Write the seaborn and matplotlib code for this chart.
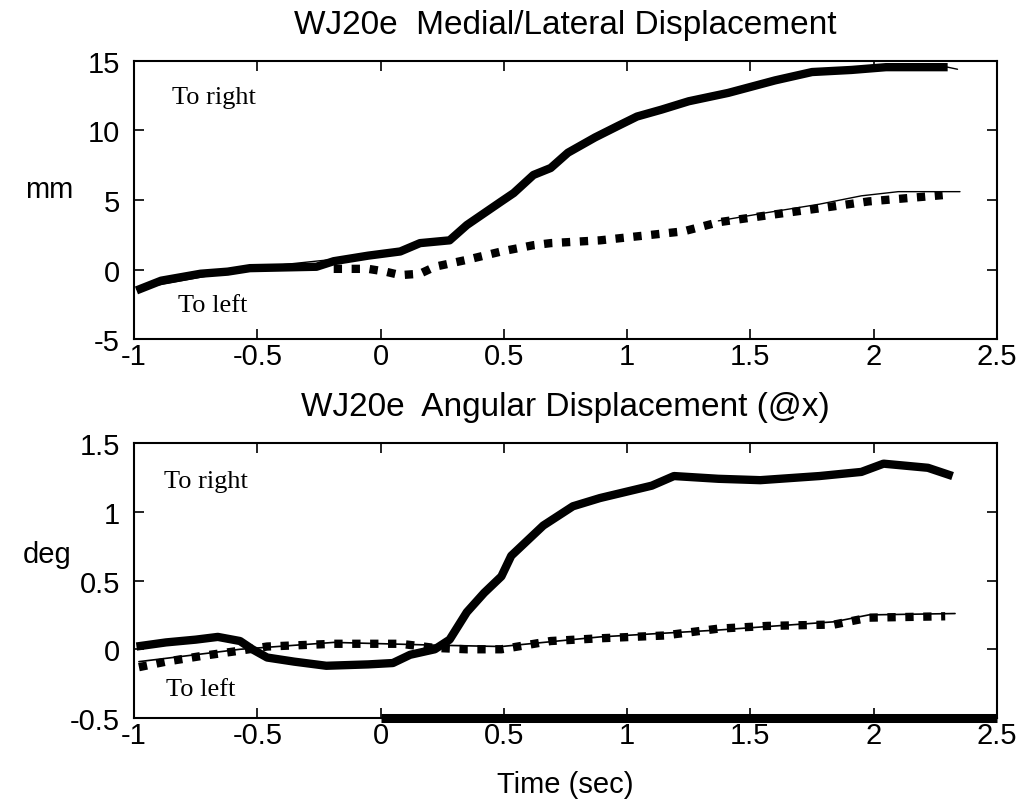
import matplotlib
matplotlib.use("Agg")
import matplotlib.pyplot as plt
import seaborn as sns

# ---- Medial/lateral displacement (mm) ----
ml_right_t = [-0.99, -0.89, -0.73, -0.62, -0.53, -0.26, -0.19, -0.05, 0.08, 0.16, 0.28,
              0.35, 0.49, 0.54, 0.62, 0.69, 0.76, 0.87, 0.96, 1.04, 1.14, 1.25, 1.41,
              1.60, 1.75, 1.91, 2.05, 2.30]
ml_right_y = [-1.5, -0.8, -0.3, -0.15, 0.1, 0.2, 0.6, 1.0, 1.3, 1.9, 2.1,
              3.2, 4.9, 5.5, 6.8, 7.3, 8.4, 9.5, 10.3, 11.0, 11.5, 12.1, 12.7,
              13.6, 14.2, 14.35, 14.55, 14.55]
ml_right_fit_t = [-0.99, -0.53, -0.05, 0.28, 0.49, 0.76, 1.04, 1.41, 1.75, 2.05, 2.30, 2.34]
ml_right_fit_y = [-1.4, 0.1, 1.0, 2.1, 4.9, 8.4, 11.0, 12.7, 14.2, 14.5, 14.55, 14.4]

ml_left_t = [-0.19, -0.05, 0.02, 0.08, 0.16, 0.22, 0.35, 0.49, 0.62, 0.69, 0.89,
             1.10, 1.23, 1.37, 1.57, 1.78, 1.98, 2.28]
ml_left_y = [0.05, 0.05, -0.15, -0.4, -0.3, 0.2, 0.7, 1.3, 1.75, 1.9, 2.1,
             2.5, 2.75, 3.4, 3.9, 4.4, 4.9, 5.35]
ml_left_fit_t = [1.37, 1.57, 1.78, 1.95, 2.10, 2.35]
ml_left_fit_y = [3.5, 4.1, 4.7, 5.3, 5.6, 5.6]

# ---- Angular displacement about x (deg) ----
ang_right_t = [-0.99, -0.87, -0.75, -0.66, -0.57, -0.52, -0.46, -0.35, -0.22, -0.05,
               0.05, 0.12, 0.22, 0.28, 0.35, 0.42, 0.49, 0.53, 0.66, 0.78, 0.89,
               1.10, 1.19, 1.37, 1.54, 1.78, 1.95, 2.04, 2.22, 2.32]
ang_right_y = [0.02, 0.05, 0.07, 0.09, 0.06, 0.0, -0.06, -0.09, -0.12, -0.11,
               -0.1, -0.04, 0.0, 0.07, 0.27, 0.41, 0.53, 0.68, 0.90, 1.04, 1.10,
               1.19, 1.26, 1.24, 1.23, 1.26, 1.29, 1.35, 1.32, 1.26]

ang_left_t = [-0.98, -0.87, -0.73, -0.57, -0.46, -0.19, 0.08, 0.22, 0.35, 0.49,
              0.69, 0.89, 1.15, 1.37, 1.57, 1.84, 1.98, 2.29]
ang_left_y = [-0.13, -0.09, -0.05, -0.01, 0.02, 0.04, 0.04, 0.01, 0.0, 0.0,
              0.06, 0.08, 0.10, 0.15, 0.17, 0.18, 0.23, 0.24]
ang_left_fit_t = [-0.98, -0.57, -0.19, 0.22, 0.49, 0.89, 1.37, 1.84, 1.98, 2.33]
ang_left_fit_y = [-0.09, 0.0, 0.05, 0.03, 0.02, 0.09, 0.14, 0.2, 0.25, 0.26]

# stimulus interval marker along the lower axis
stim_t = [0.0, 2.5]
stim_y = [-0.5, -0.5]

x_ticks = [-1, -0.5, 0, 0.5, 1, 1.5, 2, 2.5]
x_ticklabels = ["-1", "-0.5", "0", "0.5", "1", "1.5", "2", "2.5"]
ml_ticks = [-5, 0, 5, 10, 15]
ml_ticklabels = ["-5", "0", "5", "10", "15"]
ang_ticks = [-0.5, 0, 0.5, 1, 1.5]
ang_ticklabels = ["-0.5", "0", "0.5", "1", "1.5"]

sns.set_style("ticks")
plt.rcParams["font.family"] = ["Liberation Sans", "DejaVu Sans"]
plt.rcParams["text.color"] = "black"
plt.rcParams["axes.labelcolor"] = "black"
plt.rcParams["axes.unicode_minus"] = False

fig = plt.figure(figsize=(10.26, 8.04), dpi=100)
ax1 = fig.add_axes([0.1306, 0.577, 0.8411, 0.346])
ax2 = fig.add_axes([0.1306, 0.1057, 0.8411, 0.342])

THICK = 6.0
DOTS = (0, (1.0, 1.15))
serif = ["Liberation Serif", "DejaVu Serif"]
NOTE = 19

# top panel
sns.lineplot(x=ml_right_fit_t, y=ml_right_fit_y, ax=ax1, color="black", lw=1.0, sort=False)
sns.lineplot(x=ml_right_t, y=ml_right_y, ax=ax1, color="black", lw=THICK, sort=False,
             solid_capstyle="butt", solid_joinstyle="round")
sns.lineplot(x=ml_left_fit_t, y=ml_left_fit_y, ax=ax1, color="black", lw=1.0, sort=False)
sns.lineplot(x=ml_left_t, y=ml_left_y, ax=ax1, color="black", lw=THICK, sort=False,
             linestyle=DOTS, dash_capstyle="butt")
ax1.text(-0.845, 12.0, "To right", family=serif, fontsize=NOTE)
ax1.text(-0.82, -2.96, "To left", family=serif, fontsize=NOTE)

# bottom panel
sns.lineplot(x=ang_left_fit_t, y=ang_left_fit_y, ax=ax2, color="black", lw=1.2, sort=False)
sns.lineplot(x=ang_left_t, y=ang_left_y, ax=ax2, color="black", lw=THICK, sort=False,
             linestyle=DOTS, dash_capstyle="butt")
sns.lineplot(x=ang_right_t, y=ang_right_y, ax=ax2, color="black", lw=THICK, sort=False,
             solid_capstyle="butt", solid_joinstyle="round")
sns.lineplot(x=stim_t, y=stim_y, ax=ax2, color="black", lw=6.5, sort=False,
             solid_capstyle="butt")
ax2.lines[-1].set_clip_on(False)
ax2.text(-0.88, 1.18, "To right", family=serif, fontsize=NOTE)
ax2.text(-0.87, -0.33, "To left", family=serif, fontsize=NOTE)

for ax, yt, ylab, lim in [(ax1, ml_ticks, ml_ticklabels, (-5, 15)),
                          (ax2, ang_ticks, ang_ticklabels, (-0.5, 1.5))]:
    ax.set_xlim(-1, 2.5)
    ax.set_ylim(*lim)
    ax.set_xticks(x_ticks)
    ax.set_xticklabels(x_ticklabels)
    ax.set_yticks(yt)
    ax.set_yticklabels(ylab)
    ax.tick_params(direction="in", top=True, right=True, length=7, width=1.2,
                   labelsize=21, colors="black")
    ax.tick_params(axis="x", pad=2)
    ax.tick_params(axis="y", pad=10)
    for s in ax.spines.values():
        s.set_visible(True)
        s.set_linewidth(1.5)
        s.set_color("black")
    ax.set_xlabel("")
    ax.set_ylabel("")

ax1.set_title("WJ20e  Medial/Lateral Displacement", fontsize=24, pad=20)
ax2.set_title("WJ20e  Angular Displacement (@x)", fontsize=24, pad=20)

ax1.set_ylabel("mm", fontsize=21, rotation=0, ha="center", va="center")
ax1.yaxis.set_label_coords(-0.098, 0.54)
ax2.set_ylabel("deg", fontsize=21, rotation=0, ha="center", va="center")
ax2.yaxis.set_label_coords(-0.101, 0.596)
ax2.set_xlabel("Time (sec)", fontsize=21, va="center")
ax2.xaxis.set_label_coords(0.5, -0.24)

fig.savefig("out.png", dpi=100, facecolor="white")
